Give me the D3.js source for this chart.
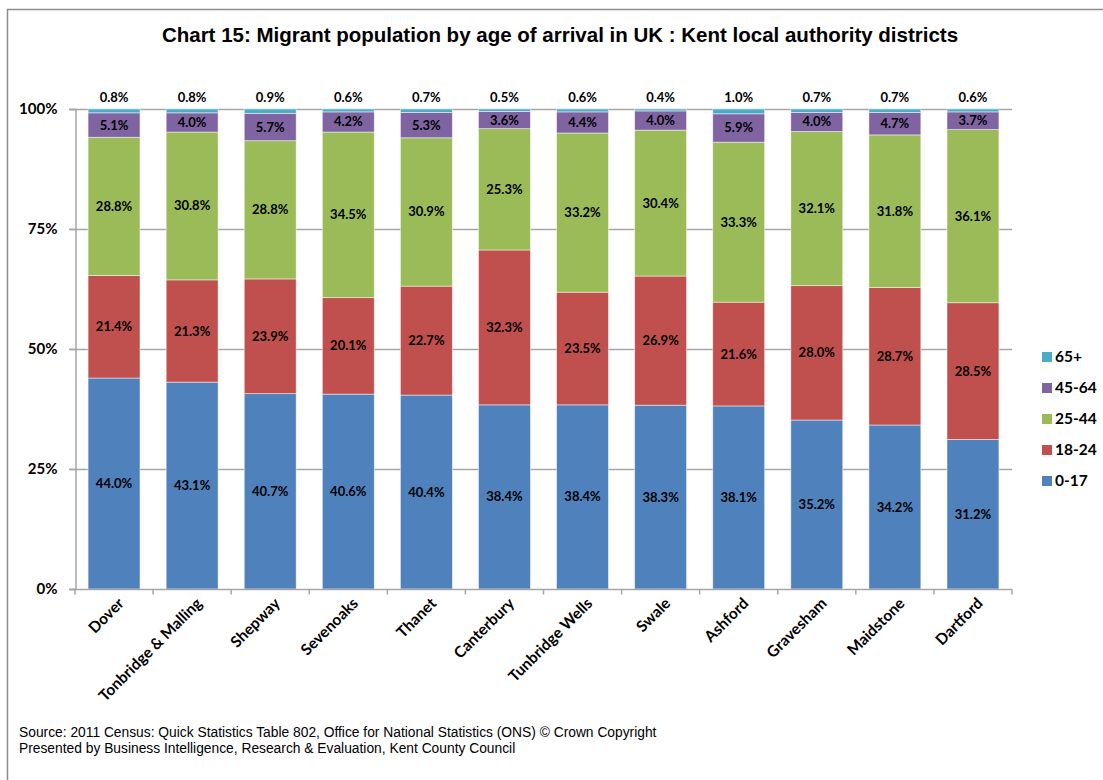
<!DOCTYPE html>
<html>
<head>
<meta charset="utf-8">
<script src="https://cdn.jsdelivr.net/npm/d3@7"></script>
<style>
  body { margin: 0; background: #fff; }
</style>
</head>
<body>
<div id="chart"></div>
<script>
var districts = ['Dover', 'Tonbridge & Malling', 'Shepway', 'Sevenoaks', 'Thanet', 'Canterbury',
                 'Tunbridge Wells', 'Swale', 'Ashford', 'Gravesham', 'Maidstone', 'Dartford'];
var ageGroups = ['0-17', '18-24', '25-44', '45-64', '65+'];
var age0_17  = [44.0, 43.1, 40.7, 40.6, 40.4, 38.4, 38.4, 38.3, 38.1, 35.2, 34.2, 31.2];
var age18_24 = [21.4, 21.3, 23.9, 20.1, 22.7, 32.3, 23.5, 26.9, 21.6, 28.0, 28.7, 28.5];
var age25_44 = [28.8, 30.8, 28.8, 34.5, 30.9, 25.3, 33.2, 30.4, 33.3, 32.1, 31.8, 36.1];
var age45_64 = [5.1, 4.0, 5.7, 4.2, 5.3, 3.6, 4.4, 4.0, 5.9, 4.0, 4.7, 3.7];
var age65    = [0.8, 0.8, 0.9, 0.6, 0.7, 0.5, 0.6, 0.4, 1.0, 0.7, 0.7, 0.6];
var yTicks = [0, 0.25, 0.5, 0.75, 1];
var colors = ['#4F81BD', '#C0504D', '#9BBB59', '#8064A2', '#4BACC6'];

var series = [age0_17, age18_24, age25_44, age45_64, age65];
var rows = districts.map(function(d, i) {
  var r = { district: d };
  ageGroups.forEach(function(g, j) { r[g] = series[j][i]; });
  return r;
});

var labelFont = 'Lato, "Open Sans", sans-serif';
var arialFont = '"Liberation Sans", Arial, sans-serif';

var width = 1103, height = 780;
var svg = d3.select('#chart').append('svg')
  .attr('width', width).attr('height', height);

// outer frame
svg.append('rect')
  .attr('x', 7.5).attr('y', 9.5).attr('width', 1200).attr('height', 900)
  .attr('fill', 'none').attr('stroke', '#8c8c8c').attr('stroke-width', 1.5);

svg.append('text')
  .attr('x', 560).attr('y', 42)
  .attr('text-anchor', 'middle')
  .style('font-family', arialFont)
  .style('font-weight', 'bold').style('font-size', '20.5px')
  .text('Chart 15: Migrant population by age of arrival in UK : Kent local authority districts');

var plotLeft = 75, plotRight = 1012, plotTop = 109, plotBottom = 589;

var x = d3.scaleBand().domain(districts).range([plotLeft, plotRight]).paddingInner(0.335).paddingOuter(0.1675);
var y = d3.scaleLinear().domain([0, 1]).range([plotBottom, plotTop]);

var stack = d3.stack().keys(ageGroups).offset(d3.stackOffsetExpand);
var stacked = stack(rows);

// gridlines
svg.append('g').selectAll('line').data(yTicks.slice(1)).enter().append('line')
  .attr('x1', plotLeft - 6).attr('x2', plotRight)
  .attr('y1', function(d) { return Math.round(y(d)) + 0.5; })
  .attr('y2', function(d) { return Math.round(y(d)) + 0.5; })
  .attr('stroke', '#a6a6a6').attr('stroke-width', 1.5);

var layer = svg.append('g').selectAll('g').data(stacked).enter().append('g')
  .attr('fill', function(d, i) { return colors[i]; });

layer.selectAll('rect').data(function(d) { return d; }).enter().append('rect')
  .attr('x', function(d) { return x(d.data.district); })
  .attr('width', x.bandwidth())
  .attr('y', function(d) { return y(d[1]); })
  .attr('height', function(d) { return y(d[0]) - y(d[1]); })
  .attr('stroke', 'rgba(255,255,255,0.6)').attr('stroke-width', 0.8);

// data labels
var labels = svg.append('g');
stacked.forEach(function(s, j) {
  labels.selectAll('text.s' + j).data(s).enter().append('text')
    .attr('class', 's' + j)
    .attr('x', function(d) { return x(d.data.district) + x.bandwidth() / 2; })
    .attr('y', function(d) {
      if (j === 4) return y(1) - 7;
      return (y(d[0]) + y(d[1])) / 2 + 4.5;
    })
    .attr('text-anchor', 'middle')
    .style('font-family', labelFont)
    .style('font-weight', 'bold').style('font-size', '13px').attr('fill', '#000')
    .text(function(d) { return d.data[ageGroups[j]].toFixed(1) + '%'; });
});

// y axis
var yAxis = svg.append('g').attr('transform', 'translate(' + (plotLeft + 0.5) + ',0)')
  .call(d3.axisLeft(y).tickValues(yTicks).tickFormat(d3.format('.0%')).tickSize(6).tickPadding(12));
yAxis.select('.domain').attr('stroke', '#a6a6a6').attr('stroke-width', 1.5);
yAxis.selectAll('.tick line').attr('stroke', '#a6a6a6').attr('stroke-width', 1.5);
yAxis.selectAll('.tick text').style('font-family', labelFont)
  .style('font-weight', 'bold').style('font-size', '15px').attr('fill', '#000');

// x axis
var xAxisG = svg.append('g').attr('transform', 'translate(0,' + (plotBottom + 0.5) + ')');
xAxisG.append('line').attr('x1', plotLeft - 6).attr('x2', plotRight)
  .attr('stroke', '#a6a6a6').attr('stroke-width', 1.5);
var step = x.step();
var boundaries = districts.map(function(d) { return x(d) - (step - x.bandwidth()) / 2; });
boundaries.push(plotRight);
xAxisG.selectAll('line.tk').data(boundaries).enter().append('line')
  .attr('class', 'tk')
  .attr('x1', function(d) { return d; }).attr('x2', function(d) { return d; })
  .attr('y1', 0).attr('y2', 5)
  .attr('stroke', '#a6a6a6').attr('stroke-width', 1.5);
xAxisG.selectAll('text').data(districts).enter().append('text')
  .attr('transform', function(d) {
    return 'translate(' + (x(d) + x.bandwidth() / 2 + 7) + ',11) rotate(-45)';
  })
  .attr('text-anchor', 'end')
  .attr('dy', '0.35em')
  .style('font-family', labelFont)
  .style('font-weight', 'bold').style('font-size', '15.5px').attr('fill', '#000')
  .text(function(d) { return d; });

// legend
var legendOrder = ageGroups.slice().reverse();
var legend = svg.append('g').selectAll('g').data(legendOrder).enter().append('g')
  .attr('transform', function(d, i) { return 'translate(1042,' + (357 + i * 31) + ')'; });
legend.append('rect').attr('x', 0).attr('y', -5).attr('width', 10).attr('height', 10)
  .attr('fill', function(d) { return colors[ageGroups.indexOf(d)]; });
legend.append('text').attr('x', 13).attr('y', 0).attr('dy', '0.35em')
  .style('font-family', labelFont)
  .style('font-weight', 'bold').style('font-size', '15.5px').attr('fill', '#000')
  .text(function(d) { return d; });

// source note
svg.append('text').attr('x', 19).attr('y', 737)
  .style('font-family', arialFont).style('font-size', '13.8px')
  .text('Source: 2011 Census: Quick Statistics Table 802, Office for National Statistics (ONS) \u00a9 Crown Copyright');
svg.append('text').attr('x', 19).attr('y', 753)
  .style('font-family', arialFont).style('font-size', '13.8px')
  .text('Presented by Business Intelligence, Research & Evaluation, Kent County Council');
</script>
</body>
</html>
